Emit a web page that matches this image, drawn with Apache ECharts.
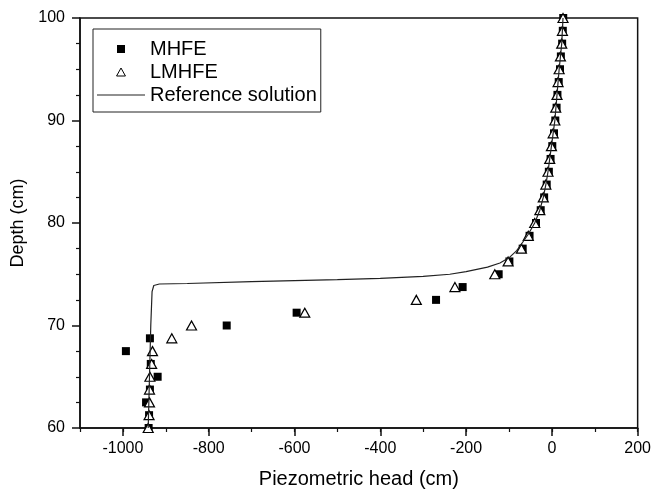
<!DOCTYPE html>
<html>
<head>
<meta charset="utf-8">
<script src="https://cdn.jsdelivr.net/npm/echarts@6/dist/echarts.min.js"></script>
<style>
  html, body { margin: 0; padding: 0; background: #fff; }
  #chart { width: 654px; height: 494px; }
</style>
</head>
<body>
<div id="chart"></div>
<script>
// depth levels of the discrete solutions (cm)
const depth = [60, 61.25, 62.5, 63.75, 65, 66.25, 67.5, 68.75, 70, 71.25, 72.5, 73.75, 75,
  76.25, 77.5, 78.75, 80, 81.25, 82.5, 83.75, 85, 86.25, 87.5, 88.75, 90, 91.25, 92.5,
  93.75, 95, 96.25, 97.5, 98.75, 100];
// piezometric head (cm)
const mhfeHead = [-940, -939, -946, -937, -919, -935, -993, -937, -758, -595, -270, -208, -124,
  -99, -68, -52, -37, -26, -18, -12, -7, -3, 1, 5, 8, 11, 13, 16, 19, 21, 24, 25.5, 26.5];
const lmhfeHead = [-941, -939, -938, -938, -937, -933, -931, -886, -840, -576, -316, -226, -133,
  -102, -71, -55, -40, -28, -20, -14, -9, -5, -1, 3, 7, 9, 12, 14.5, 17, 20, 23, 24.6, 26];
// reference solution curve
const refHead = [-941, -938, -935, -932, -928, -915, -850, -700, -500, -400, -300, -238, -200,
  -150, -121, -100, -82, -70, -55, -40, -28, -20, -14, -9, -5, -1, 3, 7, 12, 17, 23, 26];
const refDepth = [60, 65, 70, 73.3, 73.9, 74.05, 74.1, 74.28, 74.48, 74.6, 74.8, 75.0, 75.25,
  75.7, 76.1, 76.6, 77.3, 78, 78.9, 80, 81.25, 82.5, 83.75, 85, 86.25, 87.5, 88.75, 90, 92.5,
  95, 97.5, 100];

const xTicks = [-1000, -800, -600, -400, -200, 0, 200];

const font = '"Liberation Sans", Arial, sans-serif';
const pairs = (xs, ys) => xs.map((x, i) => [x, ys[i]]);

const chart = echarts.init(document.getElementById('chart'));

chart.setOption({
  animation: false,
  backgroundColor: '#fff',
  textStyle: { fontFamily: font },
  grid: {
    left: 80, right: 16, top: 18, bottom: 65,
    show: true, borderColor: '#111', borderWidth: 1.5
  },
  legend: {
    orient: 'vertical',
    left: 93, top: 29,
    padding: [10, 4, 7, 4],
    borderColor: '#222', borderWidth: 1,
    itemWidth: 48, itemHeight: 8, itemGap: 3,
    symbolKeepAspect: true,
    textStyle: { fontSize: 20, color: '#000', fontFamily: font, lineHeight: 20 },
    data: [
      { name: 'MHFE', icon: 'path://M0,0H1V1H0Z', itemStyle: { color: '#000' } },
      { name: 'LMHFE', icon: 'path://M5,0L10,9L0,9Z',
        itemStyle: { color: '#fff', borderColor: '#000', borderWidth: 1 } },
      { name: 'Reference solution', icon: 'path://M0,0H48V1.1H0Z',
        itemStyle: { color: '#222', borderWidth: 0 } }
    ]
  },
  xAxis: [{
    type: 'value', min: -1100, max: 200,
    name: 'Piezometric head (cm)', nameLocation: 'middle', nameGap: 41,
    nameTextStyle: { fontSize: 20, color: '#000', fontFamily: font },
    axisLine: { onZero: false, lineStyle: { color: '#111', width: 1.5 } },
    axisTick: { customValues: xTicks, length: 8, lineStyle: { color: '#111', width: 1.5 } },
    axisLabel: {
      customValues: xTicks, fontSize: 16, color: '#000', margin: 13, fontFamily: font,
      formatter: v => String(v)
    },
    splitLine: { show: false }
  }, {
    type: 'value', min: -1100, max: 200, interval: 100, position: 'bottom',
    axisLine: { show: false },
    axisTick: { length: 4, lineStyle: { color: '#111', width: 1.2 } },
    axisLabel: { show: false },
    splitLine: { show: false }
  }],
  yAxis: {
    type: 'value', min: 60, max: 100, interval: 10,
    name: 'Depth (cm)', nameLocation: 'middle', nameGap: 53,
    nameTextStyle: { fontSize: 18, color: '#000', fontFamily: font },
    axisLine: { onZero: false, lineStyle: { color: '#111', width: 1.5 } },
    axisTick: { length: 8, lineStyle: { color: '#111', width: 1.5 } },
    minorTick: { show: true, splitNumber: 4, length: 4, lineStyle: { color: '#111', width: 1.2 } },
    axisLabel: { fontSize: 16, color: '#000', margin: 15, fontFamily: font },
    splitLine: { show: false }
  },
  series: [
    {
      name: 'MHFE', type: 'scatter', z: 2,
      symbol: 'rect', symbolSize: 8,
      itemStyle: { color: '#000', opacity: 1 },
      data: pairs(mhfeHead, depth)
    },
    {
      name: 'LMHFE', type: 'scatter', z: 3,
      symbol: 'triangle', symbolSize: [10, 9],
      itemStyle: { color: '#fff', borderColor: '#000', borderWidth: 1.2, opacity: 1 },
      data: pairs(lmhfeHead, depth)
    },
    {
      name: 'Reference solution', type: 'line', z: 4,
      symbol: 'none', smooth: false,
      lineStyle: { color: '#222', width: 1.2 },
      itemStyle: { color: '#222' },
      data: pairs(refHead, refDepth)
    }
  ]
});
</script>
</body>
</html>
